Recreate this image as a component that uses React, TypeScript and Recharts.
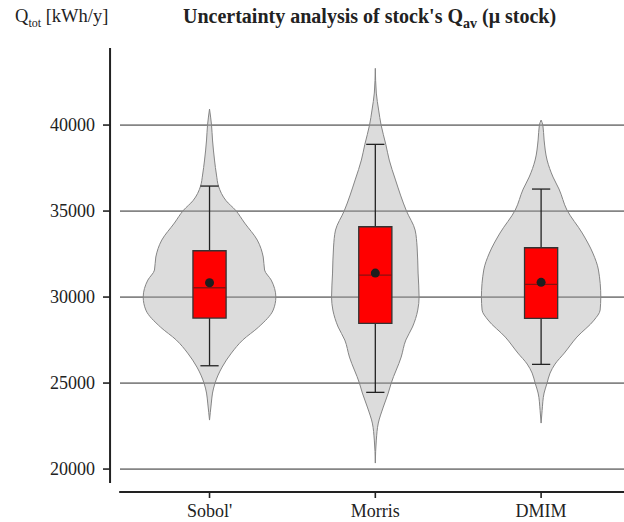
import React from "react";
import {
  ComposedChart,
  Area,
  XAxis,
  YAxis,
  CartesianGrid,
  ReferenceArea,
  ReferenceLine,
  ReferenceDot,
} from "recharts";

const categories = ["Sobol'", "Morris", "DMIM"];

// violin outlines: Q values and relative density (1 = widest violin)
const sobolQ = [22849, 23300, 23837, 24419, 25000, 25930, 26744, 27500, 28256, 29244, 30000, 30988, 31570, 32326, 33314, 34302, 35058, 35600, 36453, 37093, 37965, 39128, 40000, 40930];
const sobolDensity = [0, 0.012, 0.027, 0.045, 0.083, 0.19, 0.33, 0.5, 0.74, 0.96, 1.0, 0.93, 0.83, 0.81, 0.72, 0.53, 0.39, 0.25, 0.135, 0.105, 0.075, 0.045, 0.03, 0];

const morrisQ = [20349, 21686, 22674, 23605, 24419, 25000, 26512, 27500, 28256, 29244, 30000, 31395, 32907, 33895, 35000, 36860, 37965, 38878, 40000, 40872, 41860, 43297];
const morrisDensity = [0, 0.015, 0.045, 0.12, 0.195, 0.24, 0.39, 0.46, 0.56, 0.64, 0.66, 0.645, 0.63, 0.6, 0.47, 0.3, 0.21, 0.158, 0.087, 0.05, 0.015, 0];

const dmimQ = [22674, 23400, 24419, 25000, 25581, 26105, 26744, 27674, 28663, 29244, 30000, 31570, 32558, 33721, 35058, 36279, 36977, 37965, 39128, 40000, 40291];
const dmimDensity = [0, 0.015, 0.045, 0.09, 0.135, 0.21, 0.35, 0.54, 0.8, 0.89, 0.9, 0.865, 0.78, 0.62, 0.39, 0.27, 0.18, 0.09, 0.045, 0.026, 0];

// box plot stats
const q1 = [28779, 28471, 28762];
const medians = [30541, 31279, 30738];
const q3 = [32692, 34087, 32866];
const means = [30831, 31395, 30855];
const whiskerLow = [26006, 24459, 26087];
const whiskerHigh = [36453, 38878, 36279];

const yTicks = [20000, 25000, 30000, 35000, 40000];

const violins = [
  { q: sobolQ, d: sobolDensity },
  { q: morrisQ, d: morrisDensity },
  { q: dmimQ, d: dmimDensity },
];

const MAX_HALF = 0.4;
const BOX_HALF = 0.1;
const CAP_HALF = 0.055;
const X_DOMAIN: [number, number] = [0.46, 3.5];
const Y_DOMAIN: [number, number] = [19190, 44480];

const font = "'Liberation Serif', 'Times New Roman', serif";
const ink = "#222";

function YTick(props: any) {
  const { x, y, payload } = props;
  return (
    <g>
      <line x1={x - 17} x2={x - 10} y1={y} y2={y} stroke={ink} strokeWidth={1.6} />
      <text x={x - 25} y={y} dy="0.35em" textAnchor="end" fill={ink} style={{ fontFamily: font, fontSize: 18 }}>
        {payload.value}
      </text>
    </g>
  );
}

function XTick(props: any) {
  const { x, y, payload } = props;
  return (
    <g>
      <line x1={x} x2={x} y1={y + 9} y2={y + 15} stroke={ink} strokeWidth={1.6} />
      <text x={x} y={y + 34} textAnchor="middle" fill={ink} style={{ fontFamily: font, fontSize: 18 }}>
        {categories[payload.value - 1]}
      </text>
    </g>
  );
}

export default function App() {
  return (
    <div style={{ position: "absolute", left: 0, top: 0, width: 624, height: 522, background: "#fff", fontFamily: font, color: ink }}>
      <div style={{ position: "absolute", left: 15, top: 6, fontSize: 18.5, whiteSpace: "nowrap" }}>
        Q<sub style={{ fontSize: 12 }}>tot</sub> [kWh/y]
      </div>
      <div style={{ position: "absolute", left: 183, top: 5, fontSize: 20, fontWeight: "bold", whiteSpace: "nowrap" }}>
        Uncertainty analysis of stock's Q<sub style={{ fontSize: 14 }}>av</sub> (μ stock)
      </div>
      <ComposedChart
        width={624}
        height={522}
        layout="vertical"
        margin={{ top: 48, right: 0, bottom: 0, left: 0 }}
      >
        <CartesianGrid vertical={false} syncWithTicks stroke="#858585" strokeWidth={1.7} />
        <XAxis
          type="number"
          domain={X_DOMAIN}
          allowDataOverflow
          ticks={[1, 2, 3]}
          height={39}
          tickSize={0}
          tickMargin={0}
          axisLine={false}
          tick={<XTick />}
        />
        <YAxis
          type="number"
          dataKey="q"
          domain={Y_DOMAIN}
          allowDataOverflow
          reversed
          ticks={yTicks}
          width={120}
          tickSize={0}
          tickMargin={0}
          axisLine={false}
          tick={<YTick />}
        />
        {violins.map((v, i) => (
          <Area
            key={`violin-${i}`}
            data={v.q.map((q, j) => ({ q, band: [i + 1 - v.d[j] * MAX_HALF, i + 1 + v.d[j] * MAX_HALF] }))}
            dataKey="band"
            type="monotone"
            fill="#a8a8a8"
            fillOpacity={0.4}
            stroke="#858585"
            strokeWidth={1}
            isAnimationActive={false}
            dot={false}
            activeDot={false}
          />
        ))}
        {categories.map((c, i) => (
          <ReferenceLine
            key={`whisker-${c}`}
            segment={[{ x: i + 1, y: whiskerLow[i] }, { x: i + 1, y: whiskerHigh[i] }]}
            stroke={ink}
            strokeWidth={1.3}
            zIndex={700}
          />
        ))}
        {categories.map((c, i) => (
          <ReferenceLine
            key={`caplo-${c}`}
            segment={[{ x: i + 1 - CAP_HALF, y: whiskerLow[i] }, { x: i + 1 + CAP_HALF, y: whiskerLow[i] }]}
            stroke={ink}
            strokeWidth={1.3}
            zIndex={700}
          />
        ))}
        {categories.map((c, i) => (
          <ReferenceLine
            key={`caphi-${c}`}
            segment={[{ x: i + 1 - CAP_HALF, y: whiskerHigh[i] }, { x: i + 1 + CAP_HALF, y: whiskerHigh[i] }]}
            stroke={ink}
            strokeWidth={1.3}
            zIndex={700}
          />
        ))}
        {categories.map((c, i) => (
          <ReferenceArea
            key={`box-${c}`}
            x1={i + 1 - BOX_HALF}
            x2={i + 1 + BOX_HALF}
            y1={q1[i]}
            y2={q3[i]}
            fill="#ff0000"
            fillOpacity={1}
            stroke="#333"
            strokeWidth={1.3}
            zIndex={800}
          />
        ))}
        {categories.map((c, i) => (
          <ReferenceLine
            key={`median-${c}`}
            segment={[{ x: i + 1 - BOX_HALF, y: medians[i] }, { x: i + 1 + BOX_HALF, y: medians[i] }]}
            stroke="#8a1010"
            strokeWidth={1.3}
            zIndex={900}
          />
        ))}
        {categories.map((c, i) => (
          <ReferenceDot
            key={`mean-${c}`}
            x={i + 1}
            y={means[i]}
            r={4.5}
            fill="#1e1e1e"
            stroke="none"
            zIndex={1000}
          />
        ))}
        {/* offset axis lines, seaborn "despine" style */}
        <ReferenceLine
          segment={[{ x: 0.4, y: Y_DOMAIN[0] }, { x: 0.4, y: Y_DOMAIN[1] }]}
          ifOverflow="visible"
          stroke={ink}
          strokeWidth={2}
          zIndex={1100}
        />
        <ReferenceLine
          segment={[{ x: 0.455, y: 18667 }, { x: X_DOMAIN[1], y: 18667 }]}
          ifOverflow="visible"
          stroke={ink}
          strokeWidth={2}
          zIndex={1100}
        />
      </ComposedChart>
    </div>
  );
}
